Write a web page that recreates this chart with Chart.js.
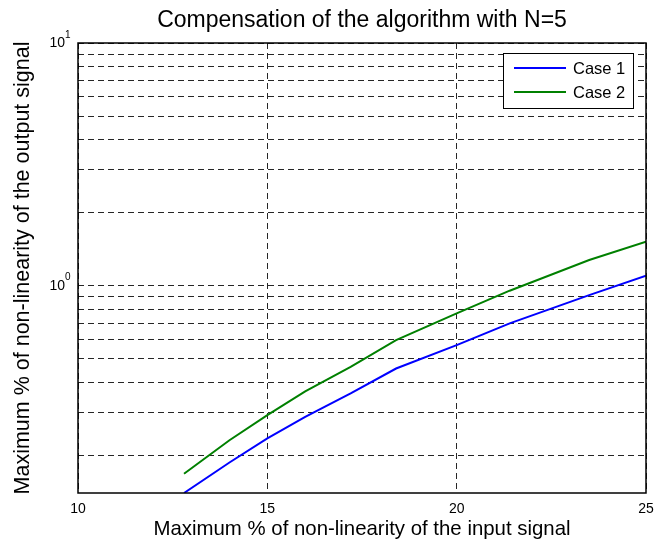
<!DOCTYPE html>
<html>
<head>
<meta charset="utf-8">
<title>Compensation of the algorithm with N=5</title>
<script src="https://cdn.jsdelivr.net/npm/chart.js@4/dist/chart.umd.min.js"></script>
<style>
  body { margin: 0; background: #fff; }
  canvas { display: block; }
</style>
</head>
<body>
<canvas id="chart" width="655" height="546"></canvas>
<script>
// values
const xValues = [12.8, 14, 15, 16, 17.2, 18.4, 20, 21.4, 23.5, 25];
const case1Values = [0.14, 0.187, 0.235, 0.288, 0.36, 0.456, 0.569, 0.70, 0.915, 1.10];
const case2Values = [0.168, 0.231, 0.293, 0.367, 0.463, 0.597, 0.769, 0.954, 1.276, 1.52];
const yGridValues = [0.2, 0.3, 0.4, 0.5, 0.6, 0.7, 0.8, 0.9, 1, 2, 3, 4, 5, 6, 7, 8, 9, 10];
const yLabelValues = [1, 10];
const xTickValues = [10, 15, 20, 25];
const titleText = 'Compensation of the algorithm with N=5';

const FONT = "'Liberation Sans', Arial, sans-serif";

// box around the plot, title, 10^n labels and legend (MATLAB look)
const matlabPlugin = {
    id: 'matlab',
    afterDraw(chart) {
        const ctx = chart.ctx;
        const a = chart.chartArea;
        const yScale = chart.scales.y;
        ctx.save();
        ctx.strokeStyle = '#000';
        ctx.lineWidth = 1.5;
        ctx.strokeRect(a.left, a.top, a.right - a.left, a.bottom - a.top);

        // title centred over the plot box
        ctx.fillStyle = '#000';
        ctx.font = '23px ' + FONT;
        ctx.textAlign = 'center';
        ctx.textBaseline = 'middle';
        ctx.fillText(titleText, (a.left + a.right) / 2, 21);

        // y labels with superscript exponent
        yLabelValues.forEach(v => {
            const y = yScale.getPixelForValue(v);
            ctx.font = '14px ' + FONT;
            ctx.textAlign = 'right';
            ctx.textBaseline = 'middle';
            ctx.fillText('10', 65, y);
            ctx.font = '10px ' + FONT;
            ctx.textAlign = 'left';
            ctx.fillText(String(Math.round(Math.log10(v))), 65, y - 8);
        });

        // legend box in the upper right corner
        const lx = 503, ly = 53, lw = 130, lh = 55;
        ctx.fillStyle = '#fff';
        ctx.fillRect(lx, ly, lw, lh);
        ctx.strokeStyle = '#000';
        ctx.lineWidth = 1;
        ctx.strokeRect(lx + 0.5, ly + 0.5, lw, lh);
        chart.data.datasets.forEach((ds, i) => {
            const y = ly + 15 + i * 24;
            ctx.strokeStyle = ds.borderColor;
            ctx.lineWidth = 2;
            ctx.beginPath();
            ctx.moveTo(lx + 11, y);
            ctx.lineTo(lx + 63, y);
            ctx.stroke();
            ctx.fillStyle = '#000';
            ctx.font = '16.5px ' + FONT;
            ctx.textAlign = 'left';
            ctx.textBaseline = 'middle';
            ctx.fillText(ds.label, lx + 70, y + 1);
        });
        ctx.restore();
    }
};

const gridStyle = {
    color: 'rgba(0,0,0,0.85)',
    lineWidth: 1,
    drawTicks: false
};

const ctx = document.getElementById('chart').getContext('2d');
const chart = new Chart(ctx, {
    type: 'line',
    data: {
        datasets: [{
            label: 'Case 1',
            data: xValues.map((x, i) => ({ x: x, y: case1Values[i] })),
            borderColor: '#0000ff',
            borderWidth: 2,
            pointRadius: 0,
            fill: false
        }, {
            label: 'Case 2',
            data: xValues.map((x, i) => ({ x: x, y: case2Values[i] })),
            borderColor: '#008000',
            borderWidth: 2,
            pointRadius: 0,
            fill: false
        }]
    },
    options: {
        responsive: false,
        animation: false,
        layout: { padding: { left: 0, right: 9, top: 43, bottom: 0 } },
        plugins: {
            legend: { display: false },
            tooltip: { enabled: false },
            title: { display: false }
        },
        scales: {
            x: {
                type: 'linear',
                min: 10,
                max: 25,
                afterBuildTicks: s => { s.ticks = xTickValues.map(v => ({ value: v })); },
                afterFit: s => { s.height = 53; s.paddingLeft = 0; s.paddingRight = 0; },
                ticks: {
                    color: '#000',
                    font: { family: FONT, size: 14 },
                    padding: 8,
                    maxRotation: 0
                },
                grid: gridStyle,
                border: { display: false, dash: [6, 4] },
                title: {
                    display: true,
                    text: 'Maximum % of non-linearity of the input signal',
                    color: '#000',
                    font: { family: FONT, size: 20.4 },
                    padding: { top: 0, bottom: 4 }
                }
            },
            y: {
                type: 'logarithmic',
                min: 0.14,
                max: 10,
                afterBuildTicks: s => { s.ticks = yGridValues.map(v => ({ value: v })); },
                afterFit: s => { s.width = 78; },
                ticks: { display: false },
                grid: gridStyle,
                border: { display: false, dash: [6, 4] },
                title: {
                    display: true,
                    text: 'Maximum % of non-linearity of the output signal',
                    color: '#000',
                    font: { family: FONT, size: 21.5 },
                    padding: { top: 10, bottom: 0 }
                }
            }
        }
    },
    plugins: [matlabPlugin]
});
</script>
</body>
</html>
